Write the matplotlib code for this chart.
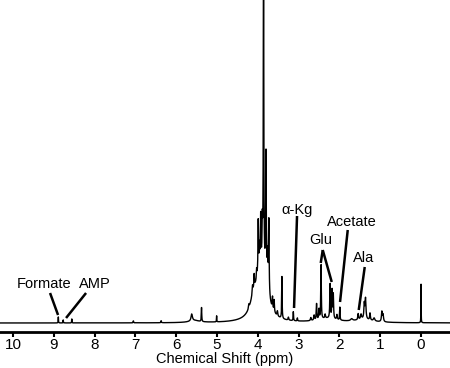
import numpy as np
import matplotlib.pyplot as plt

plt.rcParams['font.family'] = ['Liberation Sans', 'DejaVu Sans']

# peak list: position (ppm), height, half width (ppm)
peak_ppm = [8.89, 8.77, 8.56, 7.05, 6.37, 5.62, 5.38, 5.01,
            4.22, 4.13, 4.09, 4.03, 3.99, 3.96, 3.93, 3.89,
            3.86, 3.80, 3.76, 3.73, 3.64, 3.60, 3.52, 3.41, 3.25, 3.13, 3.03,
            2.70, 2.62, 2.56, 2.50, 2.45, 2.35, 2.23, 2.18, 2.15, 2.06,
            1.99, 1.70, 1.54, 1.47, 1.39, 1.36, 1.25, 1.15, 0.96, 0.93, 0.00]
peak_height = [6, 3, 4, 2, 2, 7, 14, 6,
               4, 8, 13, 10, 52, 20, 48, 40,
               400, 120, 30, 72, 12, 12, 5, 42, 3, 9, 3,
               3, 5, 16, 10, 54, 4, 34, 28, 24, 5,
               13, 2, 6, 5, 15, 20, 7, 3, 10, 7, 39]
peak_width = [0.004, 0.004, 0.004, 0.006, 0.006, 0.02, 0.006, 0.004,
              0.01, 0.01, 0.008, 0.008, 0.008, 0.008, 0.008, 0.008,
              0.006, 0.008, 0.01, 0.008, 0.008, 0.008, 0.01, 0.006, 0.01, 0.006, 0.006,
              0.01, 0.01, 0.008, 0.008, 0.007, 0.01, 0.008, 0.008, 0.008, 0.01,
              0.006, 0.03, 0.01, 0.015, 0.012, 0.012, 0.01, 0.02, 0.012, 0.012, 0.003]

# broad background humps under the crowded regions
hump_ppm = [3.93, 3.80, 4.10, 2.30, 1.40, 5.55]
hump_height = [46, 22, 15, 4, 3, 2]
hump_width = [0.13, 0.08, 0.10, 0.30, 0.25, 0.15]

labels = ['Formate', 'AMP', 'α-Kg', 'Glu', 'Acetate', 'Ala']

ppm = np.linspace(-0.75, 10.35, 15000)
spec = np.zeros_like(ppm)
for c, h, w in zip(peak_ppm + hump_ppm, peak_height + hump_height,
                   peak_width + hump_width):
    spec += h * w**2 / ((ppm - c)**2 + w**2)

fig = plt.figure(figsize=(4.5, 3.68), dpi=100)
ax = fig.add_axes([0, 36/368, 1, 332/368])
ax.plot(ppm, spec, color='black', lw=1.0)
ax.set_xlim(10.32, -0.71)
ax.set_ylim(-9, 323)

for s in ['left', 'right', 'top']:
    ax.spines[s].set_visible(False)
ax.spines['bottom'].set_linewidth(2)
ax.set_yticks([])
ax.set_xticks(range(0, 11))
ax.tick_params(axis='x', length=3.5, width=1.5, labelsize=11, pad=1)
ax.set_xlabel('Chemical Shift (ppm)', fontsize=10.5, labelpad=0)


def px(x, y):
    return (421 - x) / 40.8, 323 - y


def label(text, tx, ty, lines):
    ax.text(*px(tx, ty), text, fontsize=10.5, ha='center', va='center')
    for (x0, y0, x1, y1) in lines:
        a, b = px(x0, y0)
        c, d = px(x1, y1)
        ax.plot([a, c], [b, d], color='black', lw=1.8, solid_capstyle='butt')


label(labels[0], 44, 284, [(50, 293, 58, 315)])
label(labels[1], 95, 284, [(86, 293, 66, 318)])
label(labels[2], 297, 210, [(297, 216, 294, 308)])
label(labels[3], 321, 240, [(322.7, 250, 320.7, 263), (322.7, 250, 331.7, 282)])
label(labels[4], 352, 222, [(347.7, 230, 340, 302)])
label(labels[5], 364, 258, [(364.7, 267, 358.7, 310)])

fig.savefig('out.png', dpi=100)
